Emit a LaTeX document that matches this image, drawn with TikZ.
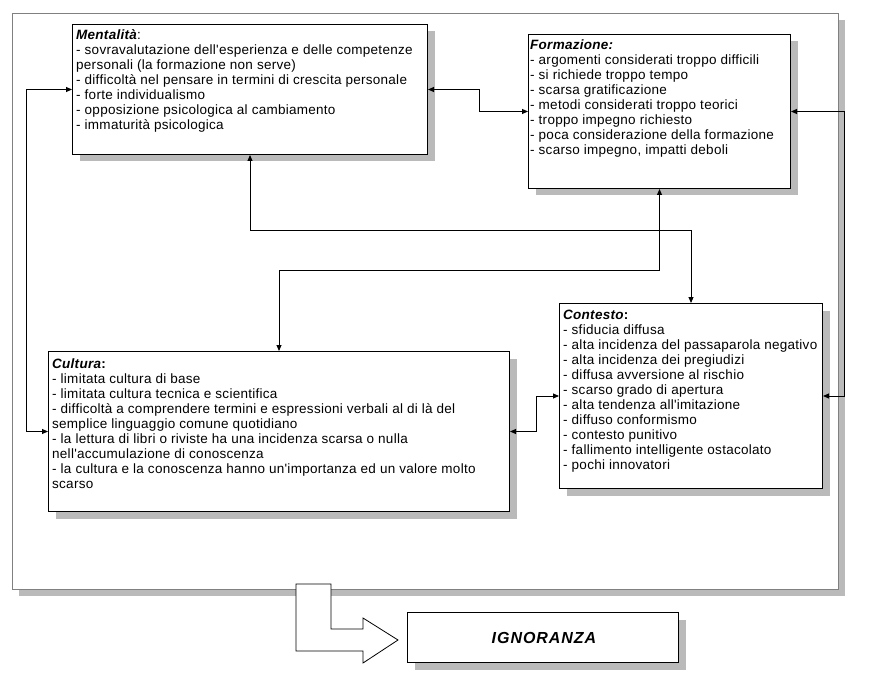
\documentclass[tikz,border=0pt]{standalone}
\usepackage{fontspec}
\usetikzlibrary{arrows.meta,shadows}
\newfontfamily\bodyfont[LetterSpace=2]{Liberation Sans}
\newfontfamily\titlefont[LetterSpace=6]{Liberation Sans}
\definecolor{shadowc}{RGB}{186,186,186}
\definecolor{framec}{RGB}{128,128,128}
\begin{document}
\begin{tikzpicture}[x=1pt,y=-1pt,
  box/.style={draw=black, line width=1pt, fill=white, anchor=north west, inner sep=0pt,
    general shadow={fill=shadowc, shadow xshift=7pt, shadow yshift=-7pt}},
  framebox/.style={draw=framec, line width=1.2pt, fill=white, anchor=north west, inner sep=0pt,
    general shadow={fill=shadowc, shadow xshift=6pt, shadow yshift=-6pt}},
  txt/.style={anchor=north west, inner sep=0pt, align=left, font=\bodyfont\fontsize{13.5}{15}\selectfont},
  conn/.style={draw=black, line width=0.9pt, {Triangle[length=6pt,width=5pt]}-{Triangle[length=6pt,width=5pt]}},
  bigarrow/.style={draw=black, line width=0.8pt, fill=white}
]
\useasboundingbox (0,0) rectangle (875,676);
\fill[white] (0,0) rectangle (875,676);

\node[framebox, minimum width=826pt, minimum height=576pt] (frame) at (12,13) {};

\node[box, minimum width=355pt, minimum height=130pt] (ment) at (72,24) {};
\node[box, minimum width=262pt, minimum height=154pt] (form) at (528,34) {};
\node[box, minimum width=263pt, minimum height=185pt] (cont) at (559,303) {};
\node[box, minimum width=461pt, minimum height=160pt] (cult) at (48,351) {};

\node[txt] (mentT) at ([xshift=4pt,yshift=-4.5pt]ment.north west) {\strut\textbf{\textit{Mentalità}}:\\
- sovravalutazione dell'esperienza e delle competenze\\
personali (la formazione non serve)\\
- difficoltà nel pensare in termini di crescita personale\\
- forte individualismo\\
- opposizione psicologica al cambiamento\\
- immaturità psicologica};

\node[txt] (formT) at ([xshift=2pt,yshift=-4.5pt]form.north west) {\strut\textbf{\textit{Formazione:}}\\
- argomenti considerati troppo difficili\\
- si richiede troppo tempo\\
- scarsa gratificazione\\
- metodi considerati troppo teorici\\
- troppo impegno richiesto\\
- poca considerazione della formazione\\
- scarso impegno, impatti deboli};

\node[txt] (contT) at ([xshift=4pt,yshift=-6pt]cont.north west) {\strut\textbf{\textit{Contesto}:}\\
- sfiducia diffusa\\
- alta incidenza del passaparola negativo\\
- alta incidenza dei pregiudizi\\
- diffusa avversione al rischio\\
- scarso grado di apertura\\
- alta tendenza all'imitazione\\
- diffuso conformismo\\
- contesto punitivo\\
- fallimento intelligente ostacolato\\
- pochi innovatori};

\node[txt] (cultT) at ([xshift=4pt,yshift=-6.5pt]cult.north west) {\strut\textbf{\textit{Cultura}:}\\
- limitata cultura di base\\
- limitata cultura tecnica e scientifica\\
- difficoltà a comprendere termini e espressioni verbali al di là del\\
semplice linguaggio comune quotidiano\\
- la lettura di libri o riviste ha una incidenza scarsa o nulla\\
nell'accumulazione di conoscenza\\
- la cultura e la conoscenza hanno un'importanza ed un valore molto\\
scarso};

\draw[conn] (ment.west) -- ++(-46,0) |- (cult.west);
\draw[conn] (ment.east) -- ++(51,0) |- (form.west);
\draw[conn] (form.east) -- ++(53,0) |- (cont.east);
\draw[conn] (ment.south) -- ++(0,75) -| (cont.north);
\draw[conn] (form.south) -- ++(0,81) -| (cult.north);
\draw[conn] (cult.east) -- ++(26,0) |- (cont.west);

\draw[bigarrow] (296,584) -- (331,584) -- (331,629) -- (363,629) -- (363,618) -- (398,640)
  -- (363,663) -- (363,651) -- (296,651) -- cycle;

\node[box, minimum width=271pt, minimum height=50pt] (ign) at (407,612) {};
\node (ignT) at ([xshift=1pt]ign.center) {\titlefont\fontsize{16}{18}\selectfont\bfseries\itshape IGNORANZA};
\end{tikzpicture}
\end{document}
